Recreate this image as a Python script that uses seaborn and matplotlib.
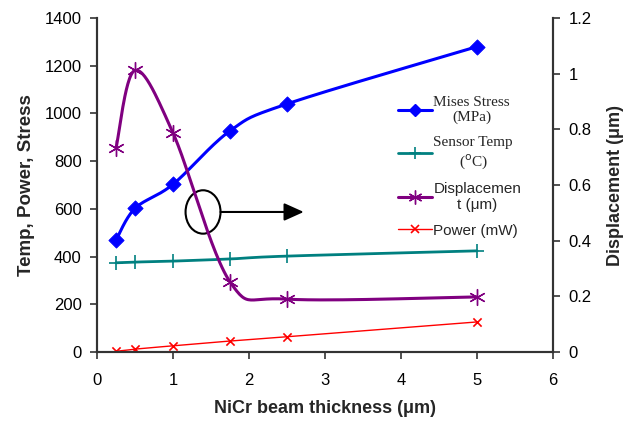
import numpy as np
import pandas as pd
import matplotlib
matplotlib.use("Agg")
import matplotlib.pyplot as plt
import seaborn as sns
from matplotlib.patches import Ellipse
from matplotlib.lines import Line2D

sns.set_theme(style="white")
plt.rcParams['font.family'] = ['Liberation Sans', 'DejaVu Sans']

thickness = [0.25, 0.5, 1.0, 1.75, 2.5, 5.0]
mises_stress = [469, 602, 703, 927, 1040, 1280]
sensor_temp = [374, 377, 381, 390, 402, 424]
power = [3, 12, 26, 46, 64, 126]
displacement = [0.733, 1.012, 0.787, 0.252, 0.19, 0.198]

x_ticks = [0, 1, 2, 3, 4, 5, 6]
y_left_ticks = [0, 200, 400, 600, 800, 1000, 1200, 1400]
y_right_ticks = [0, 0.2, 0.4, 0.6, 0.8, 1, 1.2]


def smooth(xs, ys, n=30):
    xs = np.asarray(xs, float); ys = np.asarray(ys, float)
    px = np.concatenate([[xs[0]], xs, [xs[-1]]])
    py = np.concatenate([[ys[0]], ys, [ys[-1]]])
    ox, oy = [], []
    t = np.linspace(0, 1, n)
    for i in range(1, len(px) - 2):
        p0 = np.array([px[i], py[i]]); p3 = np.array([px[i + 1], py[i + 1]])
        p1 = p0 + (np.array([px[i + 1], py[i + 1]]) - np.array([px[i - 1], py[i - 1]])) / 6
        p2 = p3 - (np.array([px[i + 2], py[i + 2]]) - np.array([px[i], py[i]])) / 6
        b = ((1 - t) ** 3)[:, None] * p0 + (3 * (1 - t) ** 2 * t)[:, None] * p1 + \
            (3 * (1 - t) * t ** 2)[:, None] * p2 + (t ** 3)[:, None] * p3
        ox.extend(b[:, 0]); oy.extend(b[:, 1])
    return pd.DataFrame({"x": ox, "y": oy, "o": np.arange(len(ox))})


fig = plt.figure(figsize=(6.28, 4.24), dpi=100)
ax = fig.add_axes([0.1545, 0.1698, 0.8806 - 0.1545, 0.9575 - 0.1698])
ax2 = ax.twinx()

blue = "#0000FF"; teal = "#008080"; purple = "#800080"; red = "#FF0000"

pts = pd.DataFrame({"x": thickness, "ms": mises_stress, "st": sensor_temp,
                    "pw": power, "d": displacement})

sns.lineplot(data=smooth(thickness, mises_stress), x="x", y="y", sort=False,
             color=blue, lw=2.2, ax=ax)
sns.scatterplot(data=pts, x="x", y="ms", marker="D", s=60, color=blue,
                edgecolor=blue, ax=ax, zorder=5)
sns.lineplot(data=smooth(thickness, sensor_temp), x="x", y="y", sort=False,
             color=teal, lw=2.0, ax=ax)
sns.scatterplot(data=pts, x="x", y="st", marker="+", s=90, color=teal,
                linewidth=1.2, ax=ax, zorder=5)
sns.lineplot(data=smooth(thickness, power), x="x", y="y", sort=False,
             color=red, lw=1.0, ax=ax)
sns.scatterplot(data=pts, x="x", y="pw", marker="x", s=35, color=red,
                linewidth=1.2, ax=ax, zorder=5)

sns.lineplot(data=smooth(thickness, displacement), x="x", y="y", sort=False,
             color=purple, lw=2.2, ax=ax2)
sns.scatterplot(data=pts, x="x", y="d", marker=(6, 2, 0), s=130, color=purple,
                linewidth=1.0, ax=ax2, zorder=5)

ax.set_xlim(0, 6)
ax.set_ylim(0, 1400)
ax2.set_ylim(0, 1.2)
ax.set_xticks(x_ticks)
ax.set_xticklabels([str(v) for v in x_ticks])
ax.set_yticks(y_left_ticks)
ax.set_yticklabels([str(v) for v in y_left_ticks])
ax2.set_yticks(y_right_ticks)
ax2.set_yticklabels([("%g" % v) for v in y_right_ticks])

for a in (ax, ax2):
    a.tick_params(axis="both", labelsize=12, length=5, width=1.2, direction="out",
                  pad=6, color="#333333", labelcolor="black")
    a.grid(False)
    for s in a.spines.values():
        s.set_color("#333333"); s.set_linewidth(1.5)
    a.spines["top"].set_visible(False)
ax.tick_params(axis="x", bottom=True, pad=10)
ax.tick_params(axis="y", left=True)
ax2.tick_params(axis="y", right=True)

ax.set_xlabel("NiCr beam thickness (μm)", fontsize=13, fontweight="bold", labelpad=9)
ax.set_ylabel("Temp, Power, Stress", fontsize=13.5, fontweight="bold", labelpad=7)
ax2.set_ylabel("Displacement (μm)", fontsize=13, fontweight="bold", labelpad=11)

# ellipse + arrow annotation
ax.add_patch(Ellipse((1.395, 587), 0.46, 182, fill=False, edgecolor="black", lw=1.5, zorder=6))
ax.annotate("", xy=(2.72, 587), xytext=(1.625, 587),
            arrowprops=dict(arrowstyle="-|>,head_length=1.0,head_width=0.45",
                            color="black", lw=1.5, shrinkA=0, shrinkB=0), zorder=6)

handles = [
    Line2D([], [], color=blue, lw=2.2, marker="D", markersize=6),
    Line2D([], [], color=teal, lw=2.0, marker="+", markersize=9, markeredgewidth=1.2),
    Line2D([], [], color=purple, lw=2.2, marker=(6, 2, 0), markersize=10, markeredgewidth=1.0),
    Line2D([], [], color=red, lw=1.0, marker="x", markersize=6, markeredgewidth=1.2),
]
labels = ["Mises Stress\n(MPa)", "Sensor Temp\n($^{\\rm o}$C)", "Displacemen\nt (μm)", "Power (mW)"]
leg = ax2.legend(handles, labels, loc="upper left", bbox_to_anchor=(0.647, 0.785),
                 frameon=False, handlelength=2.2, handletextpad=0.1,
                 labelspacing=0.75, borderaxespad=0)
fams = ["Liberation Serif", "Liberation Serif", "Liberation Sans", "Liberation Sans"]
for t, f in zip(leg.get_texts(), fams):
    t.set_fontfamily(f)
    t.set_fontsize(11)
    t.set_multialignment("center")

fig.savefig("out.png", dpi=100)
